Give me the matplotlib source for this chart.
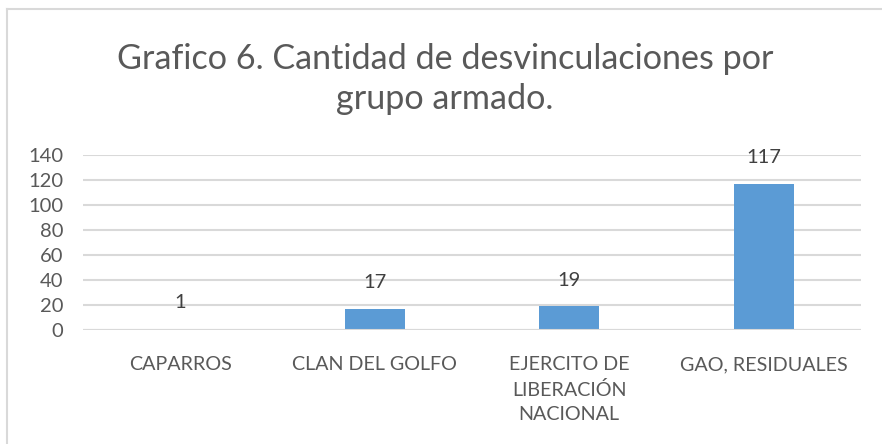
import matplotlib
matplotlib.use("Agg")
import matplotlib.pyplot as plt
from matplotlib.lines import Line2D

categories = ["CAPARROS", "CLAN DEL GOLFO", "EJERCITO DE\nLIBERACIÓN\nNACIONAL", "GAO, RESIDUALES"]
values = [1, 17, 19, 117]
yticks = [0, 20, 40, 60, 80, 100, 120, 140]
title = "Grafico 6. Cantidad de desvinculaciones por\ngrupo armado."

plt.rcParams['font.family'] = ['Lato', 'DejaVu Sans']
W, H = 882, 444
fig = plt.figure(figsize=(W/100, H/100), dpi=100)
fig.patch.set_facecolor("white")

ax = fig.add_axes([83/W, 1-330/H, (861-83)/W, (330-155)/H])
x = list(range(len(categories)))
bars = ax.bar(x, values, width=0.31, color="#5b9bd5", zorder=3)
ax.set_xlim(-0.5, len(categories)-0.5)
ax.set_ylim(0, 140)
ax.set_yticks(yticks)
ax.set_xticks(x)
ax.set_xticklabels(categories, fontsize=14.2, color="#595959", linespacing=1.5)
ax.tick_params(axis='y', labelsize=14.5, colors="#595959", length=0, pad=14)
ax.tick_params(axis='x', length=0, pad=19)
for s in ax.spines.values():
    s.set_visible(False)
ax.grid(axis='y', color="#d9d9d9", linewidth=1.5, zorder=0)
ax.set_axisbelow(True)
ax.axhline(0, color="#d9d9d9", linewidth=1.5, zorder=4)

for xi, v in zip(x, values):
    ax.annotate(str(v), (xi, v), xytext=(0, 26), textcoords='offset pixels',
                ha='center', va='center', fontsize=14.5, color="#404040")

fig.text(445/W, 1-79/H, title, ha='center', va='center', fontsize=24.6,
         color="#595959", linespacing=1.3)

fig.add_artist(Line2D([6.5/W, 6.5/W], [0, 1-9.5/H], transform=fig.transFigure, color="#d9d9d9", linewidth=1.5))
fig.add_artist(Line2D([6.5/W, 1], [1-9.5/H, 1-9.5/H], transform=fig.transFigure, color="#d9d9d9", linewidth=1.5))

fig.savefig("out.png", dpi=100)
